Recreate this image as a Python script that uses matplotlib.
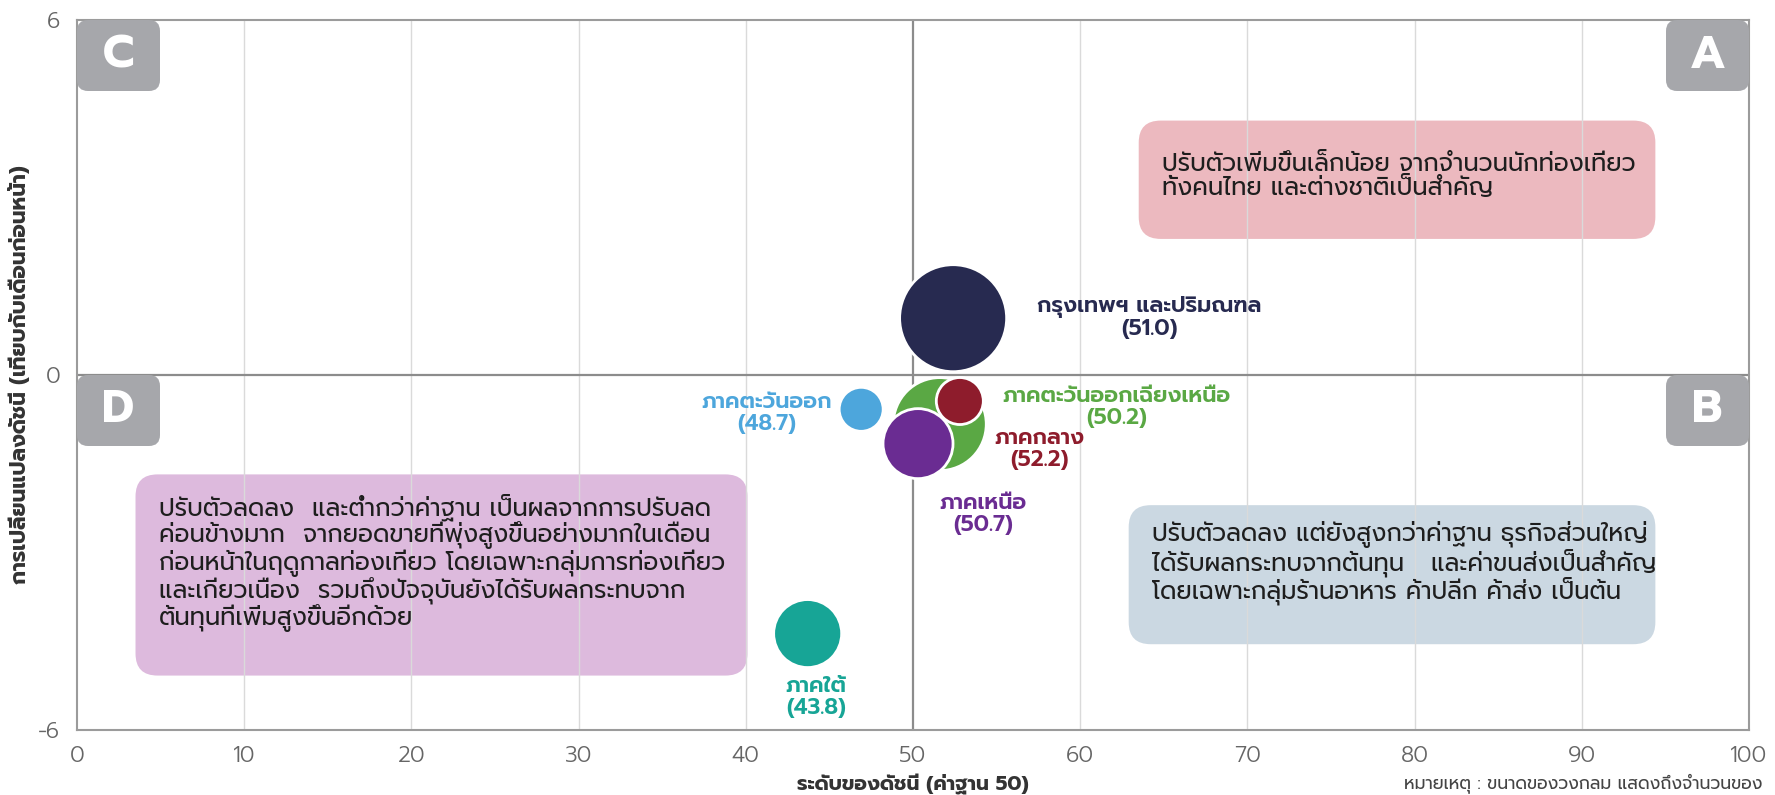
"""Regional business sentiment bubble chart (index level vs. month-on-month change)."""
import matplotlib
import matplotlib.pyplot as plt
from matplotlib.patches import FancyBboxPatch

matplotlib.use("Agg")

plt.rcParams["font.family"] = ["Prompt", "DejaVu Sans"]

# ---------------------------------------------------------------------------
# Data
# ---------------------------------------------------------------------------
regions = [
    "กรุงเทพฯ และปริมณฑล",
    "ภาคตะวันออก",
    "ภาคใต้",
    "ภาคตะวันออกเฉียงเหนือ",
    "ภาคกลาง",
    "ภาคเหนือ",
]
index_value = [51.0, 48.7, 43.8, 50.2, 52.2, 50.7]   # value printed in the label
x_pos = [52.4, 46.9, 43.7, 51.6, 52.8, 50.3]         # where the bubble sits
y_change = [0.96, -0.58, -4.37, -0.83, -0.44, -1.16]
bubble_size = [107, 44, 68, 93, 47, 70]              # bubble diameter (relative count)

colors = ["#272a50", "#4da6dc", "#17a596", "#5aa844", "#8e1c2c", "#6a2c92"]
label_offsets = [(141, 0), (-68, -3), (6, -46), (127, 12), (57, -35), (47, -51)]

x_ticks = [0, 10, 20, 30, 40, 50, 60, 70, 80, 90, 100]
y_ticks = [-6, 0, 6]

quadrants = ["C", "A", "D", "B"]

notes = [
    "ปรับตัวเพิ่มขึ้นเล็กน้อย จากจำนวนนักท่องเที่ยว\n"
    "ทั้งคนไทย และต่างชาติเป็นสำคัญ",
    "ปรับตัวลดลง  และต่ำกว่าค่าฐาน เป็นผลจากการปรับลด\n"
    "ค่อนข้างมาก  จากยอดขายที่พุ่งสูงขึ้นอย่างมากในเดือน\n"
    "ก่อนหน้าในฤดูกาลท่องเที่ยว โดยเฉพาะกลุ่มการท่องเที่ยว\n"
    "และเกี่ยวเนื่อง  รวมถึงปัจจุบันยังได้รับผลกระทบจาก\n"
    "ต้นทุนที่เพิ่มสูงขึ้นอีกด้วย",
    "ปรับตัวลดลง แต่ยังสูงกว่าค่าฐาน ธุรกิจส่วนใหญ่\n"
    "ได้รับผลกระทบจากต้นทุน   และค่าขนส่งเป็นสำคัญ\n"
    "โดยเฉพาะกลุ่มร้านอาหาร ค้าปลีก ค้าส่ง เป็นต้น",
]
note_boxes = [(63.5, 2.30, 94.4, 4.30), (3.5, -5.08, 40.1, -1.68), (62.9, -4.55, 94.4, -2.20)]
note_colors = ["#ecb9bf", "#ddbadd", "#cbd8e2"]
note_text_y = [3.36, -3.18, -3.18]

# ---------------------------------------------------------------------------
# Figure
# ---------------------------------------------------------------------------
W, H, DPI = 1775, 795, 100
fig = plt.figure(figsize=(W / DPI, H / DPI), dpi=DPI)
fig.patch.set_facecolor("white")
ax = fig.add_axes([77 / W, 1 - 730 / H, 1672 / W, 710 / H])
ax.set_xlim(0, 100)
ax.set_ylim(-6, 6)

ax_w_px = 1672
ax_h_px = 710
aspect = (12 / ax_h_px) / (100 / ax_w_px)  # y-data per x-data at equal pixels

# grid
for xv in x_ticks[1:-1]:
    if xv == 50:
        ax.axvline(xv, color="#8c8c8c", lw=1.6, zorder=1.5)
    else:
        ax.axvline(xv, color="#dadada", lw=1.0, zorder=1.5)
ax.axhline(0, color="#8c8c8c", lw=1.6, zorder=1.5)

for spine in ax.spines.values():
    spine.set_color("#9b9b9b")
    spine.set_linewidth(1.5)

ax.set_xticks(x_ticks)
ax.set_yticks(y_ticks)
ax.tick_params(length=0, labelsize=16, labelcolor="#666666")
ax.tick_params(axis="x", pad=11)
ax.tick_params(axis="y", pad=12)
for lab in ax.get_xticklabels() + ax.get_yticklabels():
    lab.set_fontweight(300)

ax.set_xlabel("ระดับของดัชนี (ค่าฐาน 50)", fontsize=14.5, fontweight="bold",
              color="#333333", labelpad=5)
ax.set_ylabel("การเปลี่ยนแปลงดัชนี (เทียบกับเดือนก่อนหน้า)", fontsize=15.5,
              fontweight="bold", color="#333333", labelpad=5)

# commentary boxes
rad = 22 / (ax_w_px / 100)
for (x0, y0, x1, y1), fc, txt, ty in zip(note_boxes, note_colors, notes, note_text_y):
    ax.add_patch(FancyBboxPatch((x0, y0), x1 - x0, y1 - y0,
                                boxstyle=f"round,pad=0,rounding_size={rad}",
                                mutation_aspect=aspect, fc=fc, ec="none", zorder=1))
    ax.text(x0 + 1.4, ty, txt, fontsize=17.5, fontweight=400, color="#1e1e1e",
            ha="left", va="center", linespacing=1.0, zorder=3)

# quadrant letter tags
qw = 83 / (ax_w_px / 100)
qh = 71 / (ax_h_px / 12)
q_anchor = [(0, 6 - qh), (100 - qw, 6 - qh), (0, -qh), (100 - qw, -qh)]
for letter, (qx, qy) in zip(quadrants, q_anchor):
    ax.add_patch(FancyBboxPatch((qx, qy), qw, qh,
                                boxstyle=f"round,pad=0,rounding_size={rad * 0.5}",
                                mutation_aspect=aspect, fc="#a6a7ab", ec="none",
                                zorder=4, clip_on=False))
    ax.text(qx + qw / 2, qy + qh / 2, letter, fontsize=33, fontweight="bold",
            color="white", ha="center", va="center", zorder=5)

# bubbles
sizes = [(d * 72 / DPI) ** 2 for d in bubble_size]
ax.scatter(x_pos, y_change, s=sizes, c=colors, edgecolors="white",
           linewidths=2, zorder=3)

for name, val, x, y, col, off in zip(regions, index_value, x_pos, y_change,
                                     colors, label_offsets):
    ax.annotate(f"{name}\n({val:.1f})", (x, y), xytext=off,
                textcoords="offset points", ha="center", va="center",
                fontsize=16, fontweight=600, color=col, linespacing=1.05,
                zorder=6)

fig.text(1762 / W, 0.002, "หมายเหตุ : ขนาดของวงกลม แสดงถึงจำนวนของ",
         fontsize=12.5, color="#444444", ha="right", va="bottom")

fig.savefig("out.png", dpi=DPI, facecolor="white")
